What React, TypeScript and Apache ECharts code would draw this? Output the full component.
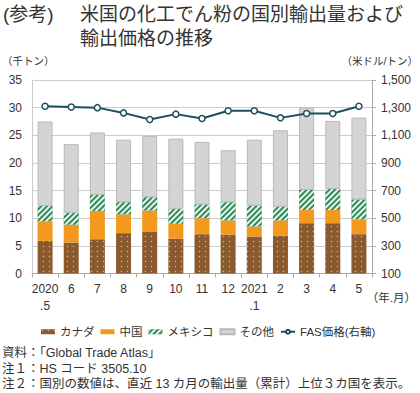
import React, { useEffect, useRef } from "react";
import * as echarts from "echarts";

const categories = ["2020\n.5", "6", "7", "8", "9", "10", "11", "12", "2021\n.1", "2", "3", "4", "5"];
const canada = [5.9, 5.6, 6.2, 7.3, 7.5, 6.3, 7.1, 7.0, 6.7, 6.8, 9.1, 9.1, 7.1];
const china = [3.5, 3.2, 5.1, 3.4, 3.9, 2.7, 2.9, 2.6, 1.8, 2.8, 2.4, 2.4, 2.7];
const mexico = [2.8, 2.2, 2.9, 2.2, 2.4, 2.7, 2.5, 3.3, 3.8, 2.5, 3.6, 3.8, 3.6];
const other = [15.3, 12.4, 11.3, 11.3, 11.1, 12.7, 11.3, 9.4, 11.9, 13.8, 14.9, 12.3, 14.8];
const fasPrice = [1310, 1305, 1300, 1262, 1214, 1253, 1221, 1277, 1277, 1226, 1258, 1258, 1310];

const seriesNames = ["カナダ", "中国", "メキシコ", "その他", "FAS価格(右軸)"];
const titleLine1 = "米国の化工でん粉の国別輸出量および";
const titleLine2 = "輸出価格の推移";
const notes = [
  "資料：「Global Trade Atlas」",
  "注１：HS コード 3505.10",
  "注２：国別の数値は、直近 13 カ月の輸出量（累計）上位３カ国を表示。",
];

const FONT = "'Liberation Sans', 'Noto Sans CJK JP', sans-serif";
const TXT = "#333";

export default function App() {
  const ref = useRef<HTMLDivElement>(null);
  useEffect(() => {
    if (!ref.current) return;
    const chart = echarts.init(ref.current, null, { renderer: "svg" });
    const barW = 15;
    chart.setOption({
      animation: false,
      textStyle: { fontFamily: FONT },
      grid: { left: 32, right: 48, top: 80, bottom: 119.5 },
      legend: {
        left: 36,
        top: 321,
        itemWidth: 14,
        itemHeight: 5,
        itemGap: 6,
        textStyle: { fontSize: 11.5, color: TXT, fontFamily: FONT },
        data: [
          { name: seriesNames[0], icon: "rect" },
          { name: seriesNames[1], icon: "rect" },
          { name: seriesNames[2], icon: "rect" },
          { name: seriesNames[3], icon: "rect" },
          { name: seriesNames[4] },
        ],
      },
      xAxis: {
        type: "category",
        data: categories,
        axisLine: { lineStyle: { color: "#aaa" } },
        axisTick: { show: true, interval: 0, length: 4, lineStyle: { color: "#aaa" } },
        axisLabel: { interval: 0, color: TXT, fontSize: 12, lineHeight: 17, margin: 7, fontFamily: FONT },
      },
      yAxis: [
        {
          type: "value",
          min: 0,
          max: 35,
          interval: 5,
          axisLine: { show: true, lineStyle: { color: "#ccc" } },
          axisTick: { show: false },
          splitLine: { lineStyle: { color: "#ccc" } },
          axisLabel: { color: TXT, fontSize: 12, margin: 10, fontFamily: FONT },
        },
        {
          type: "value",
          min: 100,
          max: 1500,
          interval: 200,
          axisLine: { show: true, lineStyle: { color: "#aaa" } },
          axisTick: { show: true, length: 4, lineStyle: { color: "#aaa" } },
          splitLine: { show: false },
          axisLabel: {
            color: TXT,
            fontSize: 12,
            margin: 9,
            fontFamily: FONT,
            formatter: (v: number) => v.toLocaleString("en-US"),
          },
        },
      ],
      series: [
        {
          name: seriesNames[0],
          type: "bar",
          stack: "t",
          barWidth: barW,
          data: canada,
          itemStyle: {
            color: "#8a5a2e",
            decal: {
              symbol: "circle",
              symbolSize: 0.45,
              dashArrayX: [[3, 3]],
              dashArrayY: [3, 2],
              color: "rgba(240,210,170,0.8)",
              rotation: 0,
            },
          },
        },
        {
          name: seriesNames[1],
          type: "bar",
          stack: "t",
          barWidth: barW,
          data: china,
          itemStyle: { color: "#f39a1e" },
        },
        {
          name: seriesNames[2],
          type: "bar",
          stack: "t",
          barWidth: barW,
          data: mexico,
          itemStyle: {
            color: "#2e8b57",
            decal: {
              symbol: "rect",
              symbolSize: 1,
              dashArrayX: [1, 0],
              dashArrayY: [1.2, 1.4],
              rotation: -Math.PI / 4,
              color: "rgba(255,255,255,0.9)",
            },
          },
        },
        {
          name: seriesNames[3],
          type: "bar",
          stack: "t",
          barWidth: barW,
          data: other,
          itemStyle: { color: "#d4d4d4", borderColor: "#b8b8b8", borderWidth: 1 },
        },
        {
          name: seriesNames[4],
          type: "line",
          yAxisIndex: 1,
          data: fasPrice,
          symbol: "circle",
          symbolSize: 6,
          lineStyle: { color: "#1d4f5e", width: 2 },
          itemStyle: { color: "#ffffff", borderColor: "#1d4f5e", borderWidth: 1.5 },
        },
      ],
      graphic: [
        { type: "text", left: 3, top: 5, style: { text: "(参考)", fontSize: 19, fill: TXT, fontFamily: FONT } },
        { type: "text", left: 80, top: 5, style: { text: titleLine1, fontSize: 19, fill: TXT, fontFamily: FONT } },
        { type: "text", left: 80, top: 29, style: { text: titleLine2, fontSize: 19, fill: TXT, fontFamily: FONT } },
        { type: "text", left: 2, top: 56, style: { text: "（千トン）", fontSize: 10.5, fill: TXT, fontFamily: FONT } },
        { type: "text", right: 2, top: 56, style: { text: "（米ドル/トン）", fontSize: 10.5, fill: TXT, fontFamily: FONT } },
        { type: "text", right: 4, top: 292, style: { text: "（年.月）", fontSize: 11.5, fill: TXT, fontFamily: FONT } },
        { type: "text", left: 2, top: 347, style: { text: notes[0], fontSize: 12.5, fill: TXT, fontFamily: FONT } },
        { type: "text", left: 2, top: 363, style: { text: notes[1], fontSize: 12.5, fill: TXT, fontFamily: FONT } },
        { type: "text", left: 2, top: 378, style: { text: notes[2], fontSize: 12.5, fill: TXT, fontFamily: FONT } },
      ],
    });
    return () => chart.dispose();
  }, []);
  return <div ref={ref} style={{ position: "absolute", left: 0, top: 0, width: 420, height: 393 }} />;
}
